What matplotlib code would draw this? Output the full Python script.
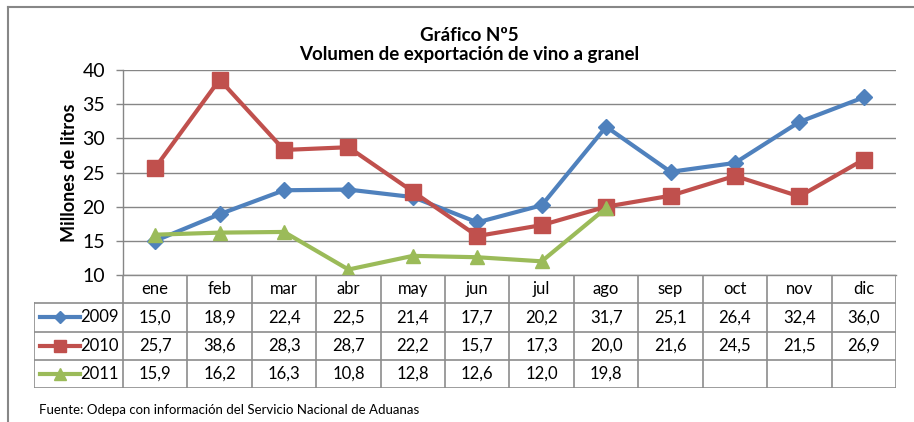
import matplotlib
matplotlib.use("Agg")
import matplotlib.pyplot as plt
from matplotlib.lines import Line2D
from matplotlib.transforms import blended_transform_factory

months = ["ene", "feb", "mar", "abr", "may", "jun", "jul", "ago", "sep", "oct", "nov", "dic"]
series_names = ["2009", "2010", "2011"]
v2009 = [15.0, 18.9, 22.4, 22.5, 21.4, 17.7, 20.2, 31.7, 25.1, 26.4, 32.4, 36.0]
v2010 = [25.7, 38.6, 28.3, 28.7, 22.2, 15.7, 17.3, 20.0, 21.6, 24.5, 21.5, 26.9]
v2011 = [15.9, 16.2, 16.3, 10.8, 12.8, 12.6, 12.0, 19.8]
yticks = [10, 15, 20, 25, 30, 35, 40]
title = "Gráfico Nº5\nVolumen de exportación de vino a granel"
ylabel = "Millones de litros"
source = "Fuente: Odepa con información del Servicio Nacional de Aduanas"

colors = ["#4F81BD", "#C0504D", "#9BBB59"]
markers = ["D", "s", "^"]
msizes = [8, 11, 10]
values = [v2009, v2010, v2011]

plt.rcParams['font.family'] = ['Lato', 'DejaVu Sans']

W, H = 914, 422
fig = plt.figure(figsize=(W / 100, H / 100), dpi=100)

def fx(px):
    return px / W

def fy(py):
    return 1 - py / H

# main axes
L, R, T, B = 123, 896, 70, 275
ax = fig.add_axes([fx(L), fy(B), fx(R) - fx(L), fy(T) - fy(B)])
xs = list(range(len(months)))
for vals, c, m, ms in zip(values, colors, markers, msizes):
    ax.plot(xs[:len(vals)], vals, color=c, lw=3, marker=m, ms=ms,
            markerfacecolor=c, markeredgecolor=c, solid_joinstyle='miter', zorder=3)
ax.set_xlim(-0.5, len(months) - 0.5)
ax.set_ylim(10, 40)
ax.set_yticks(yticks)
ax.set_yticklabels([str(t) for t in yticks], fontsize=14)
ax.set_xticks([])
ax.tick_params(axis='y', length=5, color='#868686', width=1, pad=8)
ax.grid(axis='y', color='#868686', lw=1)
ax.set_axisbelow(True)
for s in ['top', 'right']:
    ax.spines[s].set_visible(False)
for s in ['left', 'bottom']:
    ax.spines[s].set_color('#868686')
    ax.spines[s].set_linewidth(1)
ax.set_ylabel(ylabel, fontsize=13, fontweight='bold', labelpad=3)

# data table axes
TL, TB = 34, 388
col_w = (R - L) / len(months)
tax = fig.add_axes([fx(TL), fy(TB), fx(R) - fx(TL), fy(B) - fy(TB)])
x_left = -0.5 - (L - TL) / col_w
tax.set_xlim(x_left, len(months) - 0.5)
tax.set_ylim(4, 0)
tax.axis('off')
gc = '#8c8c8c'
# horizontal lines
tax.plot([-0.5, len(months) - 0.5], [0, 0], color=gc, lw=1.2)
for r in [1, 2, 3, 4]:
    tax.plot([x_left, len(months) - 0.5], [r, r], color=gc, lw=1.2)
# vertical lines
for i in range(len(months) + 1):
    tax.plot([i - 0.5, i - 0.5], [0, 4], color=gc, lw=1.2)
tax.plot([x_left, x_left], [1, 4], color=gc, lw=1.2)
for i, mth in enumerate(months):
    tax.text(i, 0.5, mth, ha='center', va='center', fontsize=12)
trans = blended_transform_factory(tax.transAxes, tax.transData)
tw = R - TL
for r, (name, vals, c, m, ms) in enumerate(zip(series_names, values, colors, markers, msizes), start=1):
    tax.plot([(40 - TL) / tw, (80 - TL) / tw], [r + 0.5, r + 0.5], color=c, lw=3,
             transform=trans, clip_on=False)
    tax.plot([(60 - TL) / tw], [r + 0.5], color=c, marker=m, ms=ms * 0.8,
             transform=trans, clip_on=False)
    tax.text(-0.5 - 0.07, r + 0.5, name, ha='right', va='center', fontsize=12)
    for i, v in enumerate(vals):
        tax.text(i, r + 0.5, f"{v:.1f}".replace('.', ','), ha='center', va='center', fontsize=12)

# title
fig.text(fx(469), fy(45), title, ha='center', va='center', fontsize=13.5,
         fontweight='bold', linespacing=1.2)
# source
fig.text(fx(39), fy(410), source, ha='left', va='center', fontsize=9.5)

# outer frame
fig.add_artist(Line2D([fx(8), 1], [fy(7), fy(7)], color='#878787', lw=1.5))
fig.add_artist(Line2D([fx(8), fx(8)], [fy(7), 0], color='#878787', lw=1.5))

fig.savefig("out.png", dpi=100)
